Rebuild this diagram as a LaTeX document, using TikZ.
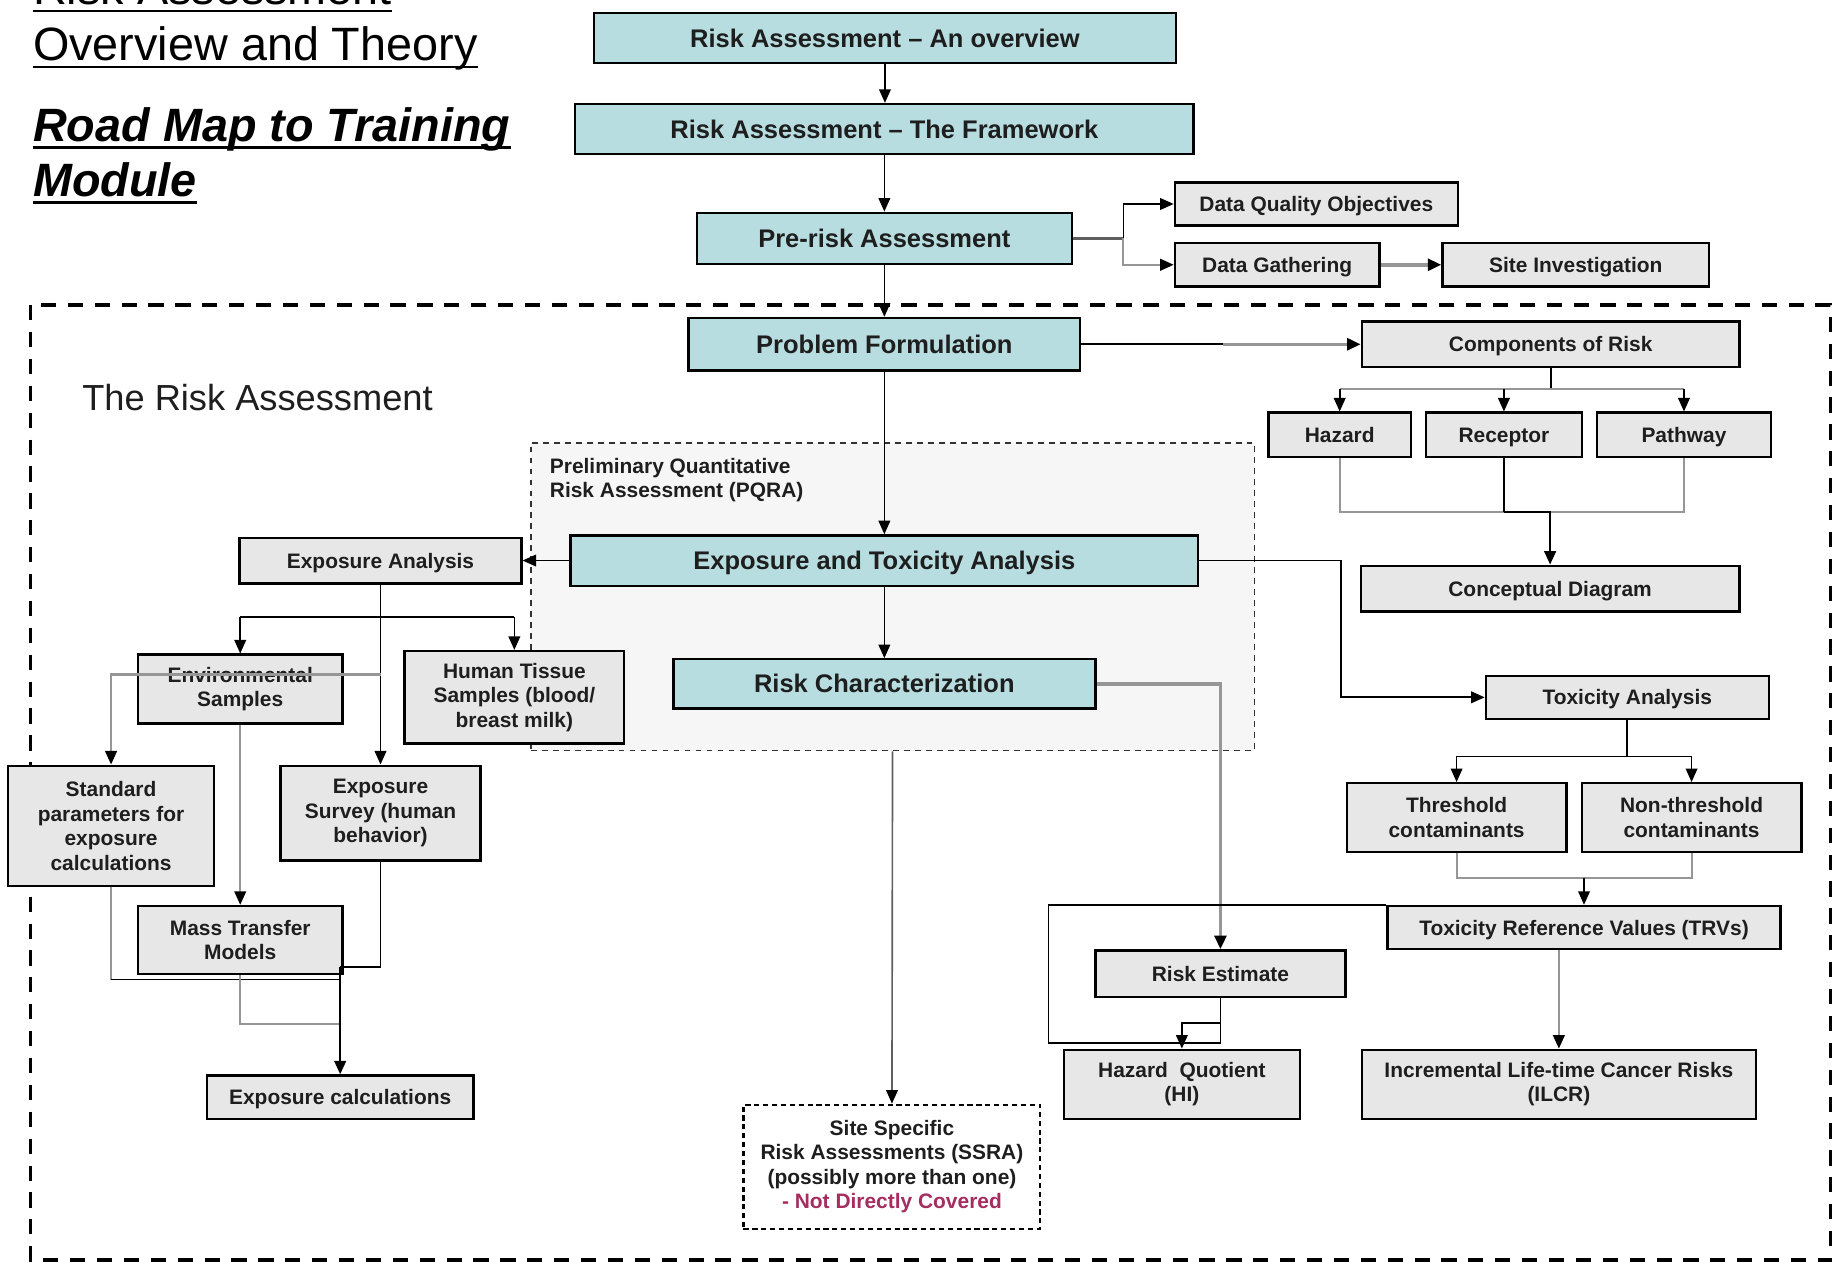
\documentclass[tikz,border=0pt]{standalone}
\usepackage{fontspec}
\setmainfont{Liberation Sans}
\usetikzlibrary{arrows.meta}

\definecolor{boxcyan}{RGB}{183,221,224}
\definecolor{boxgray}{RGB}{231,231,231}
\definecolor{pqrafill}{RGB}{246,246,246}
\definecolor{linegray}{RGB}{150,150,150}
\definecolor{stemgray}{RGB}{95,95,95}
\definecolor{notcov}{RGB}{165,45,95}
\definecolor{boxtext}{RGB}{30,30,30}

\tikzset{
  cyanbox/.style={draw=black, line width=1pt, fill=boxcyan, inner sep=0pt,
    text=boxtext, font=\fontsize{10.9}{12}\selectfont\bfseries,
    text height=9pt, text depth=1.2pt},
  graybox/.style={draw=black, line width=1pt, fill=boxgray, inner sep=0pt,
    align=center, text=boxtext, font=\fontsize{8.95}{10.5}\selectfont\bfseries},
  oneline/.style={graybox, text height=7.4pt, text depth=1pt},
  pqrabox/.style={draw=black!80, line width=0.7pt, dash pattern=on 2.5pt off 2.2pt,
    fill=pqrafill, inner sep=0pt},
  ssrabox/.style={draw=black, line width=0.9pt, dash pattern=on 2.2pt off 1.6pt,
    fill=white, inner sep=0pt, align=center, text=boxtext,
    font=\fontsize{8.95}{10.5}\selectfont\bfseries},
  frameline/.style={draw=black, line width=1.5pt, dash pattern=on 6.5pt off 5pt},
  tip/.style={-{Triangle[length=5.8pt,width=5pt,color=black]}},
  ln/.style={line width=0.7pt, draw=black},
  gln/.style={line width=0.9pt, draw=linegray},
  arr/.style={ln, tip},
  garr/.style={gln, tip},
  heavygray/.style={line width=1.5pt, draw=linegray, tip},
  stem/.style={line width=1.5pt, draw=stemgray},
  titlefont/.style={anchor=base west, inner sep=0pt, font=\fontsize{20}{24}\selectfont},
  titlebold/.style={titlefont, font=\fontsize{20}{24}\selectfont\bfseries\itshape},
  uline/.style={line width=1pt},
}

% box from its corners (x1,y1)-(x2,y2)
\newcommand\boxat[7]{\node[#6, minimum width={(#4-#2)*0.5pt},
  minimum height={(#5-#3)*0.5pt}] (#1) at ({(#2+#4)/2},{(#3+#5)/2}) {#7};}

\begin{document}
\begin{tikzpicture}[x=0.5pt,y=-0.5pt]
\useasboundingbox (0,0) rectangle (1568,1080);

% ---- heading ----
\node[titlefont] (t1) at (28,4) {Risk Assessment};
\node[titlefont] (t2) at (28,52) {Overview and Theory};
\node[titlebold] (t3) at (28,121) {Road Map to Training};
\node[titlebold] (t4) at (28,168) {Module};
\foreach \t in {t1,t2,t3,t4}
  \draw[uline] ([yshift=-2.6pt]\t.base west) -- ([yshift=-2.6pt]\t.base east);

% ---- frames ----
\draw[frameline] (26,261) rectangle (1566,1078);
\node[anchor=west, inner sep=0pt, font=\fontsize{15.5}{18}\selectfont, text=boxtext]
  (ratitle) at (70,340) {The Risk Assessment};
\boxat{pqra}{454}{379}{1073}{642}{pqrabox}{}
\node[anchor=north west, inner sep=0pt, align=left, text=boxtext,
  font=\fontsize{8.95}{10}\selectfont\bfseries] (pqralabel) at (470,392)
  {Preliminary Quantitative\\Risk Assessment (PQRA)};

% ---- main column ----
\boxat{ov}{508}{11}{1006}{54}{cyanbox}{Risk Assessment -- An overview}
\boxat{fw}{492}{89}{1021}{132}{cyanbox}{Risk Assessment -- The Framework}
\boxat{pre}{596}{182}{917}{226}{cyanbox}{Pre-risk Assessment}
\boxat{pf}{589}{272}{924}{317}{cyanbox}{Problem Formulation}
\boxat{eta}{488}{458}{1025}{501}{cyanbox}{Exposure and Toxicity Analysis}
\boxat{rc}{576}{564}{937}{606}{cyanbox}{Risk Characterization}

% ---- pre-risk branch ----
\boxat{dqo}{1005}{156}{1247}{193}{oneline}{Data Quality Objectives}
\boxat{dg}{1005}{208}{1180}{245}{oneline}{Data Gathering}
\boxat{si}{1234}{208}{1462}{245}{oneline}{Site Investigation}

% ---- problem formulation branch ----
\boxat{cor}{1165}{275}{1488}{314}{oneline}{Components of Risk}
\boxat{haz}{1085}{353}{1207}{391}{oneline}{Hazard}
\boxat{rec}{1220}{353}{1353}{391}{oneline}{Receptor}
\boxat{pat}{1366}{353}{1515}{391}{oneline}{Pathway}
\boxat{cd}{1164}{484}{1488}{523}{oneline}{Conceptual Diagram}

% ---- toxicity branch ----
\boxat{ta}{1271}{578}{1513}{615}{oneline}{Toxicity Analysis}
\boxat{thr}{1152}{670}{1340}{729}{graybox}{Threshold\\contaminants}
\boxat{nthr}{1353}{670}{1541}{729}{graybox}{Non-threshold\\contaminants}
\boxat{trv}{1187}{775}{1523}{812}{oneline}{Toxicity Reference Values (TRVs)}
\boxat{re}{937}{813}{1151}{853}{oneline}{Risk Estimate}
\boxat{hq}{910}{898}{1112}{957}{graybox}{Hazard\ \ Quotient\\(HI)}
\boxat{ilcr}{1165}{898}{1502}{957}{graybox}{Incremental Life-time Cancer Risks\\(ILCR)}

% ---- exposure branch ----
\boxat{ea}{205}{460}{446}{499}{oneline}{Exposure Analysis}
\boxat{env}{118}{560}{293}{619}{graybox}{Environmental\\Samples}
\boxat{hts}{346}{557}{534}{636}{graybox}{Human Tissue\\Samples (blood/\\breast milk)}
\boxat{std}{7}{655}{183}{758}{graybox}{Standard\\parameters for\\exposure\\calculations}
\boxat{es}{240}{655}{411}{736}{graybox}{Exposure\\Survey (human\\behavior)}
\boxat{mt}{118}{775}{293}{833}{graybox}{Mass Transfer\\Models}
\boxat{ec}{177}{920}{405}{957}{oneline}{Exposure calculations}

% ---- site specific ----
\boxat{ssra}{636}{945}{890}{1051}{ssrabox}{Site Specific\\Risk Assessments (SSRA)\\(possibly more than one)\\\textcolor{notcov}{- Not Directly Covered}}

% ---- junction points ----
\coordinate (prj) at (961,204);
\coordinate (pfj) at (1046,294.5);
\coordinate (cj) at (1326.5,333);
\coordinate (hj) at (1286.5,438);
\coordinate (etj) at (1147,479.5);
\coordinate (thj) at (1392,647);
\coordinate (tcj) at (1355,751);
\coordinate (loopL) at (897,892);
\coordinate (loopR) at (1044,875);
\coordinate (eaj) at (325.5,528);
\coordinate (stj) at (325.5,577);
\coordinate (colA) at (291,838);
\coordinate (colB) at (291,876);
\coordinate (ecj) at (291,827);

% ---- connectors: main column ----
\draw[arr] (ov.south) -- (ov.south |- fw.north);
\draw[arr] (fw.south) -- (fw.south |- pre.north);
\draw[arr] (pre.south) -- (pre.south |- pf.north);
\draw[arr] (pf.south) -- (pf.south |- eta.north);
\draw[arr] (eta.south) -- (eta.south |- rc.north);

% pre-risk
\draw[stem] (pre.east) -- (prj);
\draw[arr] (prj) |- (dqo.west);
\draw[garr] (prj) |- (dg.west);
\draw[heavygray] (dg.east) -- (si.west);

% problem formulation
\draw[ln] (pf.east) -- (pfj);
\draw[heavygray] (pfj) -- (cor.west);
\draw[ln] (cor.south) -- (cj);
\draw[gln] (haz.north |- cj) -- (pat.north |- cj);
\draw[arr] (haz.north |- cj) -- (haz.north);
\draw[arr] (rec.north |- cj) -- (rec.north);
\draw[arr] (pat.north |- cj) -- (pat.north);
\draw[gln] (haz.south) |- (pat.south |- hj) -- (pat.south);
\draw[ln] (rec.south) -- (hj);
\draw[arr, line width=1pt] (hj) -| (cd.north);

% exposure and toxicity
\draw[arr] (eta.west) -- (ea.east);
\draw[arr] (eta.east) -- (etj) |- (ta.west);
\draw[heavygray] (rc.east) -| (re.north);
\draw[arr, draw=stemgray] (pqra.south) -- (ssra.north);

% toxicity
\draw[ln] (ta.south) -- (thj);
\draw[ln] (thr.north |- thj) -- (nthr.north |- thj);
\draw[arr] (thr.north |- thj) -- (thr.north);
\draw[arr] (nthr.north |- thj) -- (nthr.north);
\draw[gln] (thr.south) |- (nthr.south |- tcj) -- (nthr.south);
\draw[arr] (tcj) -- (trv.north);
\draw[ln] (trv.north west) -| (loopL) -| (loopR);
\draw[arr] (re.south) |- (hq.north |- loopR) -- (hq.north);
\draw[garr] (ilcr.north |- trv.south) -- (ilcr.north);

% exposure
\draw[arr] (ea.south) -- (es.north);
\draw[ln] (env.north |- eaj) -- (hts.north |- eaj);
\draw[arr] (env.north |- eaj) -- (env.north);
\draw[arr] (hts.north |- eaj) -- (hts.north);
\draw[garr] (stj) -| (std.north);
\draw[garr] (env.south) -- (mt.north);
\draw[gln] (std.south) -- (std.south |- colA);
\draw[ln] (std.south |- colA) -- (colA);
\draw[gln] (mt.south) |- (colB);
\draw[ln] (es.south) |- (ecj);
\draw[arr, line width=1pt] (ecj) -- (ec.north);
\end{tikzpicture}
\end{document}
